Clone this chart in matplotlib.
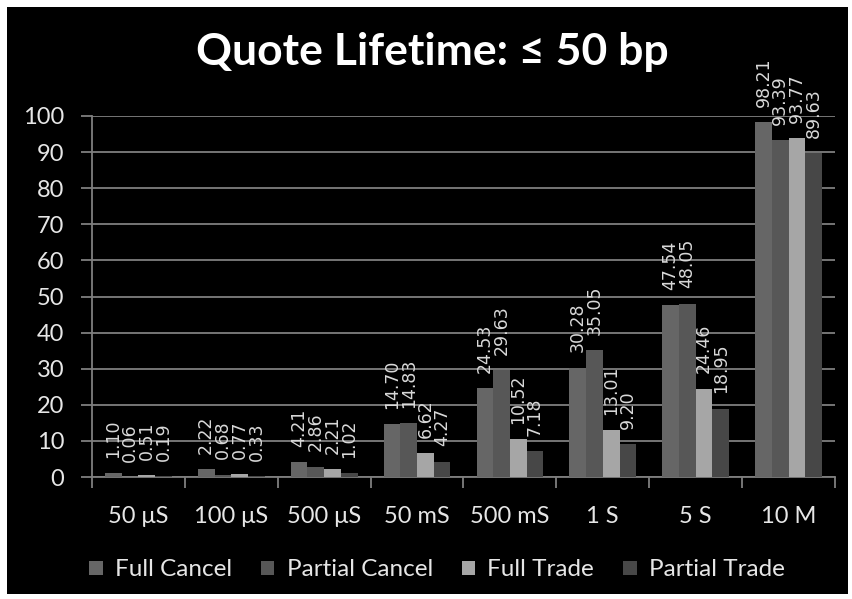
import matplotlib
matplotlib.use("Agg")
import matplotlib.pyplot as plt
import numpy as np

# Quote lifetime buckets and percentage per order type
categories = ["50 μS", "100 μS", "500 μS", "50 mS", "500 mS", "1 S", "5 S", "10 M"]
full_cancel = [1.10, 2.22, 4.21, 14.70, 24.53, 30.28, 47.54, 98.21]
partial_cancel = [0.06, 0.68, 2.86, 14.83, 29.63, 35.05, 48.05, 93.39]
full_trade = [0.51, 0.77, 2.21, 6.62, 10.52, 13.01, 24.46, 93.77]
partial_trade = [0.19, 0.33, 1.02, 4.27, 7.18, 9.20, 18.95, 89.63]
series_names = ["Full Cancel", "Partial Cancel", "Full Trade", "Partial Trade"]
y_ticks = [0, 10, 20, 30, 40, 50, 60, 70, 80, 90, 100]

colours = ["#666666", "#575757", "#a6a6a6", "#474747"]
fnt = ["Lato", "DejaVu Sans"]

fig = plt.figure(figsize=(8.53, 5.99), dpi=100, facecolor="white")
# black panel with a thin white edge
fig.patches.append(plt.Rectangle((7 / 853, 5 / 599), 841 / 853, 587 / 599,
                                 transform=fig.transFigure, facecolor="black",
                                 edgecolor="none", zorder=-10))

ax = fig.add_axes([92 / 853, 122 / 599, 743 / 853, 361 / 599])
ax.set_facecolor("black")

x = np.arange(len(categories))
w = 0.18
data = [full_cancel, partial_cancel, full_trade, partial_trade]
for k, vals in enumerate(data):
    pos = x + (k - 1.5) * w
    bars = ax.bar(pos, vals, width=w, color=colours[k], label=series_names[k], zorder=3)
    for b, v in zip(bars, vals):
        ax.annotate(f"{v:.2f}", (b.get_x() + b.get_width() / 2, v),
                    xytext=(0, 11), textcoords="offset points",
                    rotation=90, ha="center", va="bottom",
                    fontsize=12.5, color="#d9d9d9", zorder=4)

ax.set_xlim(-0.5, len(categories) - 0.5)
ax.set_ylim(0, 100)
ax.set_yticks(y_ticks)
ax.yaxis.grid(True, color="#7f7f7f", linewidth=1.3, zorder=1)
ax.set_axisbelow(True)

ax.set_xticks(x)
ax.set_xticklabels(categories)
ax.set_xticks(np.arange(-0.5, len(categories)), minor=True)
ax.tick_params(axis="x", which="major", length=0, pad=21)
ax.tick_params(axis="x", which="minor", length=8, color="#7f7f7f", width=1.3)
ax.tick_params(axis="y", length=8, color="#7f7f7f", width=1.3, pad=12)
for lab in ax.get_xticklabels() + ax.get_yticklabels():
    lab.set_fontfamily(fnt)
    lab.set_fontsize(17)
    lab.set_color("#e6e6e6")

for side in ["top", "right"]:
    ax.spines[side].set_visible(False)
for side in ["left", "bottom"]:
    ax.spines[side].set_color("#7f7f7f")
    ax.spines[side].set_linewidth(1.3)

fig.text(432 / 853, 1 - 52 / 599, "Quote Lifetime: ≤ 50 bp", ha="center", va="center",
         fontsize=32, fontweight="bold", color="white", family=fnt)

leg = fig.legend(loc="center", bbox_to_anchor=(437 / 853, 1 - 570 / 599), ncol=4,
                 frameon=False, handlelength=0.55, handleheight=0.55,
                 handletextpad=0.5, columnspacing=1.2,
                 prop={"family": fnt, "size": 17.5})
for t in leg.get_texts():
    t.set_color("#e6e6e6")

fig.savefig("out.png", dpi=100, facecolor="white")
